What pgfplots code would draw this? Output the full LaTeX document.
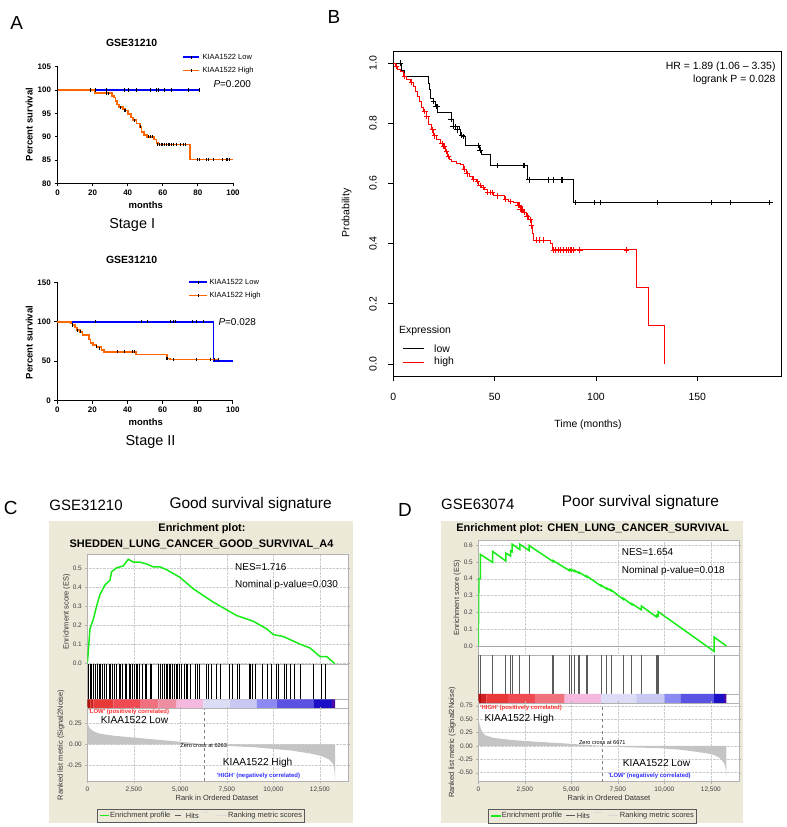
\documentclass[border=0pt]{standalone}
\usepackage{pgfplots}
\pgfplotsset{compat=1.18}
\usepackage{fontspec}
\setmainfont{Liberation Sans}
\definecolor{beige}{HTML}{ECE9D8}
\definecolor{korange}{HTML}{FF6600}
\definecolor{kblue}{HTML}{0000FF}
\definecolor{esgreen}{HTML}{18EC18}
\definecolor{hitgray}{HTML}{5A5A5A}
\definecolor{metric}{HTML}{C4C4C4}
\definecolor{redlab}{HTML}{FF3030}
\definecolor{bluelab}{HTML}{3030FF}
\definecolor{cA}{HTML}{B01010}
\definecolor{cB}{HTML}{D02020}
\definecolor{cC}{HTML}{E83838}
\definecolor{cD}{HTML}{F04A52}
\definecolor{cE}{HTML}{F0707E}
\definecolor{cF}{HTML}{EE8CA2}
\definecolor{cG}{HTML}{F5B8DE}
\definecolor{cH}{HTML}{DCDCF6}
\definecolor{cI}{HTML}{C8C8F2}
\definecolor{cJ}{HTML}{8A8AF2}
\definecolor{cK}{HTML}{5A52E2}
\definecolor{cL}{HTML}{1C10C6}
\definecolor{cM}{HTML}{4A0CA8}
\newcommand{\fs}[1]{\fontsize{#1}{#1}\selectfont}
\newcommand{\seg}[3]{\addplot[draw=none,fill=#3] coordinates {(#1,0) (#1,1) (#2,1) (#2,0)} \closedcycle;}
\pgfplotsset{
  kmA/.style={scale only axis, anchor=south west, width=175.5bp, xmin=0, xmax=100,
    xtick={0,20,40,60,80,100}, axis x line=bottom, axis y line=left,
    axis line style={-, line width=1bp},
    tick align=outside, major tick length=3bp, tick style={black, line width=0.9bp},
    ticklabel style={font=\bfseries\fs{8}}, /pgf/number format/assume math mode=true, clip=false},
  gsea/.style={scale only axis, anchor=north west, width=261bp, xmin=0, xmax=14030,
    scaled x ticks=false, scaled y ticks=false,
    axis line style={gray!60}, tick style={gray!60}, tick align=outside, major tick length=2bp,
    ticklabel style={font=\fs{6.5}, text=black!75}, /pgf/number format/assume math mode=true,
    axis background/.style={fill=white}, grid style={gray!40, densely dotted}},
  gseaES/.style={gsea, xtick={0,2500,5000,7500,10000,12500}, xticklabels={}, xtick style={draw=none}, grid=major,
    ytick={0,0.1,0.2,0.3,0.4,0.5,0.6}, yticklabel style={/pgf/number format/.cd, fixed, fixed zerofill, precision=1}},
  gseaHit/.style={gsea, ymin=0, ymax=1, xtick=\empty, ytick=\empty},
  gseaRank/.style={gsea, grid=major, xtick={0,2500,5000,7500,10000,12500},
    xticklabels={0,{2,500},{5,000},{7,500},{10,000},{12,500}},
    yticklabel style={/pgf/number format/.cd, fixed, fixed zerofill, precision=2}},
}
\begin{document}
\begin{tikzpicture}[x=1bp,y=1bp]
\path[use as bounding box] (0,0) rectangle (787,827);
\fill[white] (0,0) rectangle (787,827);
% ================= Panel A =================
\node[font=\fs{19}] at (16.7,827-23.3) {A};
\node[font=\bfseries\fs{10.5}] at (131.7,827-43.3) {GSE31210};
\begin{axis}[kmA, at={(57.5bp,643.7bp)}, height=116.6bp, ymin=80, ymax=105, ytick={80,85,90,95,100,105}]
\addplot[const plot, draw=kblue, line width=1.8bp] coordinates {(0,100) (81,100)};
\addplot[const plot, draw=korange, line width=1.8bp] coordinates {(0,100) (21.4,99.3) (30.9,98.8) (32.2,98.4) (33.1,97.7) (34.1,96.9) (35,96.3) (37.5,96) (38.4,95.6) (40.3,94.9) (41.7,94.1) (43.2,93.5) (45,92.8) (47,92.1) (47.9,91) (49.2,90.3) (50.8,90) (54.9,89.4) (56.4,88.7) (57.4,88.3) (75.4,85.1) (100,85.1)};
\addplot[only marks, mark=|, mark size=1.6bp, black, line width=0.7bp] coordinates {(19,100) (21.8,100) (27.7,100) (38,100) (40.3,100) (45,100) (53,100) (56.4,100) (57.4,100) (61,100) (65,100) (74.4,100) (81,100)};
\addplot[only marks, mark=|, mark size=1.6bp, black, line width=0.9bp] coordinates {(28,99.3) (29,99.3) (36,96.3) (38,95.6) (39,95.6) (44,93.5) (47.5,92.1) (52,90) (53,90) (54,90) (57,88.3) (58,88.3) (59,88.3) (60,88.3) (61,88.3) (62,88.3) (63,88.3) (64,88.3) (65,88.3) (66,88.3) (68,88.3) (70,88.3) (72,88.3) (73,88.3) (80,85.1) (81,85.1) (85,85.1) (86,85.1) (89,85.1) (94,85.1) (96,85.1) (97,85.1) (98,85.1)};
\end{axis}
\draw[kblue, line width=1.6bp] (182.7,827-57.3) -- (199.3,827-57.3);
\draw[black, line width=0.7bp] (191,827-55.6) -- (191,827-59);
\draw[korange, line width=1.6bp] (182.7,827-70.7) -- (199.3,827-70.7);
\draw[black, line width=0.7bp] (191,827-69) -- (191,827-72.4);
\node[anchor=west, inner sep=0, font=\fs{7.5}] at (202.3,827-57.3) {KIAA1522 Low};
\node[anchor=west, inner sep=0, font=\fs{7.5}] at (202.3,827-70.7) {KIAA1522 High};
\node[anchor=west, inner sep=0, font=\fs{10}] at (213.3,827-84.3) {\textit{P}=0.200};
\node[rotate=90, font=\bfseries\fs{9.5}] at (29.3,827-124.5) {Percent survival};
\node[font=\bfseries\fs{9.5}] at (145.8,827-205) {months};
\node[font=\fs{14.5}] at (132.2,827-225) {Stage I};
% Stage II
\node[font=\bfseries\fs{10.5}] at (131.7,827-260) {GSE31210};
\begin{axis}[kmA, at={(57.3bp,426.3bp)}, height=118.4bp, ymin=0, ymax=150, ytick={0,50,100,150}]
\addplot[const plot, draw=kblue, line width=1.8bp] coordinates {(0,100) (89,50) (100,50)};
\addplot[const plot, draw=korange, line width=1.8bp] coordinates {(0,100) (7.6,97.9) (8.7,95.8) (10,92.8) (11.4,89.4) (12.9,87.3) (14.4,83) (18.2,77.5) (18.9,73.3) (20.5,70.3) (22.3,68.2) (25.2,64) (26.5,61.9) (44.7,58.5) (62.7,53.4) (64,52.1) (92,52.1)};
\addplot[only marks, mark=|, mark size=1.6bp, black, line width=0.7bp] coordinates {(21.8,100) (47.9,100) (51.3,100) (64.4,100) (65.9,100) (67.2,100) (76.7,100) (79.2,100) (83.3,100)};
\addplot[only marks, mark=|, mark size=1.6bp, black, line width=0.8bp] coordinates {(8.7,95.8) (11.4,89.4) (12.9,87.3) (22.3,68.2) (23.9,66.5) (34.1,61.9) (38.4,61.9) (42.8,61.9) (44.1,61.9) (62.1,53.4) (62.5,53.4) (65.9,52.1) (79.2,52.1) (87.1,52.1) (89.6,52.1) (91.9,52.1)};
\end{axis}
\draw[kblue, line width=1.6bp] (189.3,827-282.3) -- (206.7,827-282.3);
\draw[black, line width=0.7bp] (198,827-280.6) -- (198,827-284);
\draw[korange, line width=1.6bp] (189.3,827-295.7) -- (206.7,827-295.7);
\draw[black, line width=0.7bp] (198,827-294) -- (198,827-297.4);
\node[anchor=west, inner sep=0, font=\fs{7.5}] at (209.3,827-282.3) {KIAA1522 Low};
\node[anchor=west, inner sep=0, font=\fs{7.5}] at (209.3,827-295.7) {KIAA1522 High};
\node[anchor=west, inner sep=0, font=\fs{10}] at (218.3,827-321.7) {\textit{P}=0.028};
\node[rotate=90, font=\bfseries\fs{9.5}] at (29.3,827-342.5) {Percent survival};
\node[font=\bfseries\fs{9.5}] at (145.8,827-422.3) {months};
\node[font=\fs{14.5}] at (150.5,827-441.7) {Stage II};
% ================= Panel B =================
\node[font=\fs{19}] at (334,827-17) {B};
\begin{axis}[scale only axis, anchor=south west, at={(393.3bp,451bp)}, width=388.4bp, height=325bp,
  xmin=0, xmax=191.7, ymin=-0.04, ymax=1.04, xtick={0,50,100,150}, ytick={0,0.2,0.4,0.6,0.8,1},
  tick pos=left, tick align=outside, major tick length=5bp, tick style={black, line width=0.7bp},
  axis line style={line width=0.7bp},
  ticklabel style={font=\fs{10.5}}, /pgf/number format/assume math mode=true,
  xticklabel style={yshift=-9bp},
  yticklabel style={rotate=90, anchor=south, yshift=8bp, /pgf/number format/.cd, fixed, fixed zerofill, precision=1}]
\addplot[const plot, black, line width=0.8bp] coordinates {(0,1) (4.1,0.977) (5.5,0.955) (17.3,0.933) (17.8,0.911) (18.5,0.881) (19.8,0.872) (21,0.855) (21.9,0.836) (28.9,0.814) (29.7,0.789) (32.7,0.778) (33.3,0.761) (34.7,0.756) (35.5,0.726) (42.6,0.71) (43.7,0.695) (47.9,0.66) (66,0.612) (88.8,0.537) (186,0.537)};
\addplot[only marks, mark=+, mark size=2.8bp, black, line width=0.7bp] coordinates {(3.5,1) (19.8,0.872) (21,0.855) (21.5,0.855) (28.5,0.814) (29.4,0.789) (30.5,0.789) (31.4,0.778) (33.8,0.761) (34.7,0.756) (42.1,0.726) (42.9,0.71) (51.5,0.66) (64,0.66) (64.7,0.66) (67,0.612) (76.6,0.612) (79.2,0.612) (82.8,0.612) (83.3,0.612) (89.9,0.537) (99,0.537) (102.3,0.537) (130.3,0.537) (156.8,0.537) (166.2,0.537) (185.8,0.537)};
\addplot[const plot, red, line width=0.8bp] coordinates {(0,1) (0.8,0.989) (2,0.98) (3.3,0.972) (4.95,0.956) (6.6,0.947) (8.25,0.936) (9.9,0.922) (10.7,0.906) (11.9,0.889) (12.9,0.872) (14,0.853) (14.9,0.839) (16.2,0.822) (17.3,0.795) (18.6,0.778) (19.8,0.758) (21.5,0.747) (23.1,0.732) (24.4,0.723) (25.6,0.706) (26.7,0.69) (27.6,0.681) (28.9,0.673) (31,0.667) (33.3,0.662) (34.7,0.647) (36,0.632) (37.6,0.623) (38.8,0.614) (40.9,0.606) (42.1,0.593) (43.7,0.586) (45,0.579) (46.2,0.57) (49.5,0.559) (54.8,0.548) (56.9,0.54) (59.4,0.537) (61,0.528) (62.7,0.514) (64.4,0.503) (65.7,0.492) (66.8,0.479) (68,0.459) (68.5,0.435) (69.3,0.412) (77.6,0.399) (78.4,0.379) (120.1,0.254) (125.9,0.127) (134,0)};
\addplot[only marks, mark=+, mark size=2.8bp, red, line width=0.7bp] coordinates {(1.5,0.989) (5.5,0.956) (9,0.936) (15.5,0.839) (16.5,0.822) (19.5,0.778) (20.5,0.758) (24,0.732) (24.8,0.723) (25.3,0.723) (26.2,0.706) (27.2,0.69) (35.2,0.647) (36.5,0.632) (39.5,0.614) (41.5,0.606) (42.8,0.593) (44.2,0.586) (46.5,0.57) (48,0.57) (48.8,0.57) (51.5,0.559) (55.5,0.548) (58,0.54) (61.5,0.528) (62.2,0.528) (62.5,0.514) (63,0.514) (63.5,0.514) (64.5,0.503) (66,0.492) (67.5,0.479) (68.2,0.459) (70.5,0.412) (72,0.412) (74,0.412) (79,0.379) (80,0.379) (81.5,0.379) (82.5,0.379) (84,0.379) (85.5,0.379) (86.5,0.379) (87.2,0.379) (88,0.379) (88.8,0.379) (92,0.379) (115,0.379)};
\end{axis}
\node[anchor=east, inner sep=0, font=\fs{10.5}] at (775.7,827-67.3) {HR = 1.89 (1.06 \textendash{} 3.35)};
\node[anchor=east, inner sep=0, font=\fs{10.5}] at (775.7,827-80) {logrank P = 0.028};
\node[anchor=west, inner sep=0, font=\fs{10.5}] at (399,827-330.7) {Expression};
\draw[black, line width=0.8bp] (403,827-348.3) -- (424,827-348.3);
\draw[red, line width=0.8bp] (403,827-362.3) -- (424,827-362.3);
\node[anchor=west, inner sep=0, font=\fs{10.5}] at (434,827-348.3) {low};
\node[anchor=west, inner sep=0, font=\fs{10.5}] at (434,827-362.3) {high};
\node[rotate=90, font=\fs{10.5}] at (346.7,827-213) {Probability};
\node[font=\fs{10.5}] at (588,827-425) {Time (months)};
% ================= Panel C =================
\fill[beige] (49.3,827-521) rectangle (352.7,827-823.3);
\node[font=\fs{19}] at (10.8,827-508.3) {C};
\node[anchor=west, inner sep=0, font=\fs{15}] at (49.3,827-505) {GSE31210};
\node[anchor=west, inner sep=0, font=\fs{15.5}] at (169.3,827-505) {Good survival signature};
\node[font=\bfseries\fs{11}] at (202,827-528.3) {Enrichment plot:};
\node[font=\bfseries\fs{11}] at (201.5,827-544.3) {SHEDDEN\_LUNG\_CANCER\_GOOD\_SURVIVAL\_A4};
\begin{axis}[gseaES, at={(87.3bp,272.7bp)}, height=109.7bp, ymin=-0.004, ymax=0.571]
\addplot[esgreen, line width=1.5bp] coordinates {(0,0) (54,0.06) (143,0.18) (323,0.23) (502,0.30) (681,0.36) (950,0.41) (1219,0.435) (1308,0.48) (1577,0.50) (1935,0.51) (2204,0.545) (2473,0.53) (2832,0.53) (3190,0.52) (3548,0.505) (3907,0.505) (4265,0.49) (4982,0.45) (5699,0.39) (6774,0.32) (8029,0.25) (8925,0.22) (9642,0.18) (10000,0.15) (10538,0.14) (11434,0.10) (11971,0.08) (12509,0.035) (12867,0.035) (13315,-0.003)};
\end{axis}
\begin{axis}[gseaHit, at={(87.3bp,163bp)}, height=35.3bp]
\addplot[ycomb, black, line width=0.7bp] coordinates {(55,1) (145,1) (235,1) (324,1) (450,1) (539,1) (629,1) (718,1) (826,1) (916,1) (1041,1) (1184,1) (1256,1) (1346,1) (1453,1) (1578,1) (1722,1) (1794,1) (1901,1) (2027,1) (2116,1) (2242,1) (2331,1) (2439,1) (2510,1) (2618,1) (2708,1) (2797,1) (2976,1) (3102,1) (3191,1) (3371,1) (3460,1) (3836,1) (3908,1) (4016,1) (4123,1) (4231,1) (4302,1) (4410,1) (4481,1) (4553,1) (4660,1) (4768,1) (4840,1) (4947,1) (5073,1) (5198,1) (5306,1) (5378,1) (5521,1) (5790,1) (5915,1) (6023,1) (6381,1) (6507,1) (6686,1) (6955,1) (7134,1) (7636,1) (7815,1) (8066,1) (8173,1) (8711,1) (8783,1) (8890,1) (9016,1) (9428,1) (9697,1) (9912,1) (10181,1) (10271,1) (10575,1) (10719,1) (10934,1) (11113,1) (11436,1) (12153,1) (12601,1) (12780,1)};
\end{axis}
\begin{axis}[gseaHit, at={(87.3bp,127.7bp)}, height=9.4bp]
\seg{0}{160}{cA}
\seg{160}{324}{cB}
\seg{324}{1400}{cC}
\seg{1400}{2834}{cD}
\seg{2834}{3820}{cE}
\seg{3820}{4806}{cF}
\seg{4806}{6240}{cG}
\seg{6240}{7674}{cH}
\seg{7674}{9108}{cI}
\seg{9108}{10183}{cJ}
\seg{10183}{12155}{cK}
\seg{12155}{13141}{cL}
\seg{13141}{13320}{cM}
\end{axis}
\begin{axis}[gseaRank, at={(87.3bp,118.3bp)}, height=72.3bp, ymin=-0.437, ymax=0.424, ytick={-0.25,0,0.25}]
\addplot[fill=metric, draw=none] coordinates {(0,0.30) (30,0.25) (100,0.20) (300,0.16) (600,0.13) (1000,0.115) (1500,0.10) (2500,0.08) (3500,0.06) (4500,0.04) (5500,0.02) (6263,0) (7000,-0.01) (8000,-0.025) (9000,-0.035) (10000,-0.055) (11000,-0.075) (12000,-0.11) (12600,-0.14) (13000,-0.18) (13200,-0.23) (13280,-0.3) (13317,-0.42) (13317,0)} \closedcycle;
\addplot[gray, dashed, line width=0.5bp] coordinates {(6263,-0.437) (6263,0.424)};
\end{axis}
\node[anchor=west, inner sep=0, font=\fs{10}] at (235,827-566.7) {NES=1.716};
\node[anchor=west, inner sep=0, font=\fs{10}] at (235,827-585) {Nominal p-value=0.030};
\node[anchor=west, inner sep=0, font=\bfseries\fs{6}, text=redlab] at (88.3,827-711.7) {\textquotesingle LOW\textquotesingle{} (positively correlated)};
\node[anchor=west, inner sep=0, font=\fs{10.2}] at (100.7,827-720) {KIAA1522 Low};
\node[inner sep=0, font=\fs{5.6}] at (203.7,827-745.3) {Zero cross at 6263};
\node[anchor=west, inner sep=0, font=\fs{10.2}] at (222.7,827-763.3) {KIAA1522 High};
\node[anchor=west, inner sep=0, font=\bfseries\fs{6}, text=bluelab] at (216.7,827-776) {\textquotesingle HIGH\textquotesingle{} (negatively correlated)};
\node[rotate=90, font=\fs{7.5}, text=black!80] at (66.7,827-611.7) {Enrichment score (ES)};
\node[rotate=90, font=\fs{7.5}, text=black!80] at (61,827-745) {Ranked list metric (Signal2Noise)};
\node[font=\fs{7.5}, text=black!80] at (217,827-798.3) {Rank in Ordered Dataset};
\draw[gray!70!black, line width=0.8bp] (97.3,827-809.3) rectangle (304,827-822.7);
\draw[esgreen, line width=1.5bp] (99.5,827-815.7) -- (109,827-815.7);
\node[anchor=west, inner sep=0, font=\fs{7.5}, text=black!80] at (110,827-815.7) {Enrichment profile};
\draw[hitgray, line width=1bp] (175,827-815.7) -- (181,827-815.7);
\node[anchor=west, inner sep=0, font=\fs{7.5}, text=black!80] at (185.7,827-815.7) {Hits};
\draw[gray!30, line width=1bp] (202.7,827-812.7) -- (208.3,827-812.7);
\draw[gray!30, line width=1bp] (216.7,827-815.7) -- (226.7,827-815.7);
\node[anchor=west, inner sep=0, font=\fs{7.5}, text=black!80] at (228,827-815.7) {Ranking metric scores};
% ================= Panel D =================
\fill[beige] (441,827-521) rectangle (743.3,827-823.3);
\node[font=\fs{19}] at (405,827-510) {D};
\node[anchor=west, inner sep=0, font=\fs{15}] at (441,827-504.3) {GSE63074};
\node[anchor=west, inner sep=0, font=\fs{15.5}] at (561.7,827-503) {Poor survival signature};
\node[font=\bfseries\fs{11}] at (592.7,827-529) {Enrichment plot: CHEN\_LUNG\_CANCER\_SURVIVAL};
\begin{axis}[gseaES, at={(478.3bp,287bp)}, height=115bp, ymin=-0.053, ymax=0.63]
\addplot[gray!70, line width=0.6bp] coordinates {(0,0) (14030,0)};
\addplot[esgreen, line width=1.5bp] coordinates {(0,0) (30,0.40) (107,0.40) (107,0.545) (768,0.497) (768,0.562) (1482,0.505) (1482,0.552) (1732,0.535) (1732,0.566) (1821,0.56) (1821,0.605) (2232,0.573) (2232,0.605) (2732,0.567) (2732,0.597) (4018,0.502) (4018,0.508) (4911,0.447) (4911,0.455) (5000,0.449) (5000,0.455) (5179,0.443) (5179,0.449) (5411,0.433) (5411,0.438) (5839,0.41) (5839,0.415) (6607,0.356) (6607,0.361) (6911,0.339) (6911,0.344) (7143,0.328) (7143,0.333) (7786,0.278) (7786,0.284) (8250,0.247) (8250,0.252) (8768,0.215) (8768,0.238) (9589,0.172) (9589,0.183) (9661,0.178) (9661,0.205) (12679,-0.032) (12679,0.053) (13339,0.0)};
\end{axis}
\begin{axis}[gseaHit, at={(478.3bp,172bp)}, height=39bp]
\addplot[ycomb, hitgray, line width=1.2bp] coordinates {(30,1) (107,1) (768,1) (1482,1) (1732,1) (1821,1) (2232,1) (2732,1) (4018,1) (4911,1) (5000,1) (5179,1) (5411,1) (5839,1) (6607,1) (6911,1) (7143,1) (7786,1) (8250,1) (8768,1) (9589,1) (9661,1) (12679,1)};
\end{axis}
\begin{axis}[gseaHit, at={(478.3bp,133bp)}, height=9.3bp]
\seg{0}{150}{cA}
\seg{150}{446}{cB}
\seg{446}{1607}{cC}
\seg{1607}{3036}{cD}
\seg{3036}{4643}{cE}
\seg{4643}{6607}{cG}
\seg{6607}{8500}{cH}
\seg{8500}{10000}{cI}
\seg{10000}{10893}{cJ}
\seg{10893}{12679}{cK}
\seg{12679}{13214}{cL}
\seg{13214}{13339}{cM}
\end{axis}
\begin{axis}[gseaRank, at={(478.3bp,123.7bp)}, height=78.4bp, ymin=-0.668, ymax=0.795, ytick={-0.5,-0.25,0,0.25,0.5,0.75}]
\addplot[fill=metric, draw=none] coordinates {(0,0.58) (40,0.45) (150,0.3) (357,0.2) (800,0.15) (1786,0.11) (3000,0.08) (4464,0.05) (5500,0.025) (6671,0) (8000,-0.025) (9821,-0.043) (10800,-0.07) (11607,-0.105) (12300,-0.14) (12679,-0.17) (13000,-0.23) (13214,-0.32) (13300,-0.42) (13339,-0.6) (13339,0)} \closedcycle;
\addplot[gray, dashed, line width=0.5bp] coordinates {(6671,-0.668) (6671,0.795)};
\end{axis}
\node[anchor=west, inner sep=0, font=\fs{10}] at (621.7,827-551.7) {NES=1.654};
\node[anchor=west, inner sep=0, font=\fs{10}] at (621.7,827-571) {Nominal p-value=0.018};
\node[anchor=west, inner sep=0, font=\bfseries\fs{6}, text=redlab] at (480,827-707.7) {\textquotesingle HIGH\textquotesingle{} (positively correlated)};
\node[anchor=west, inner sep=0, font=\fs{10.2}] at (484.3,827-719) {KIAA1522 High};
\node[inner sep=0, font=\fs{5.6}] at (602.3,827-742.7) {Zero cross at 6671};
\node[anchor=west, inner sep=0, font=\fs{10.2}] at (622.7,827-763.3) {KIAA1522 Low};
\node[anchor=west, inner sep=0, font=\bfseries\fs{6}, text=bluelab] at (608.3,827-776) {\textquotesingle LOW\textquotesingle{} (negatively correlated)};
\node[rotate=90, font=\fs{7.5}, text=black!80] at (457.3,827-598) {Enrichment score (ES)};
\node[rotate=90, font=\fs{7.5}, text=black!80] at (452.3,827-742.5) {Ranked list metric (Signal2Noise)};
\node[font=\fs{7.5}, text=black!80] at (609,827-798.3) {Rank in Ordered Dataset};
\draw[gray!70!black, line width=0.8bp] (488.3,827-809.3) rectangle (696.7,827-823.3);
\draw[esgreen, line width=1.5bp] (490.5,827-816) -- (501,827-816);
\node[anchor=west, inner sep=0, font=\fs{7.5}, text=black!80] at (501.7,827-816) {Enrichment profile};
\draw[hitgray, line width=1bp] (566,827-816) -- (575,827-816);
\node[anchor=west, inner sep=0, font=\fs{7.5}, text=black!80] at (576.7,827-816) {Hits};
\draw[gray!30, line width=1bp] (594.3,827-812.7) -- (602.3,827-812.7);
\draw[gray!30, line width=1bp] (608.3,827-816) -- (617.7,827-816);
\node[anchor=west, inner sep=0, font=\fs{7.5}, text=black!80] at (619.7,827-816) {Ranking metric scores};
\end{tikzpicture}
\end{document}
